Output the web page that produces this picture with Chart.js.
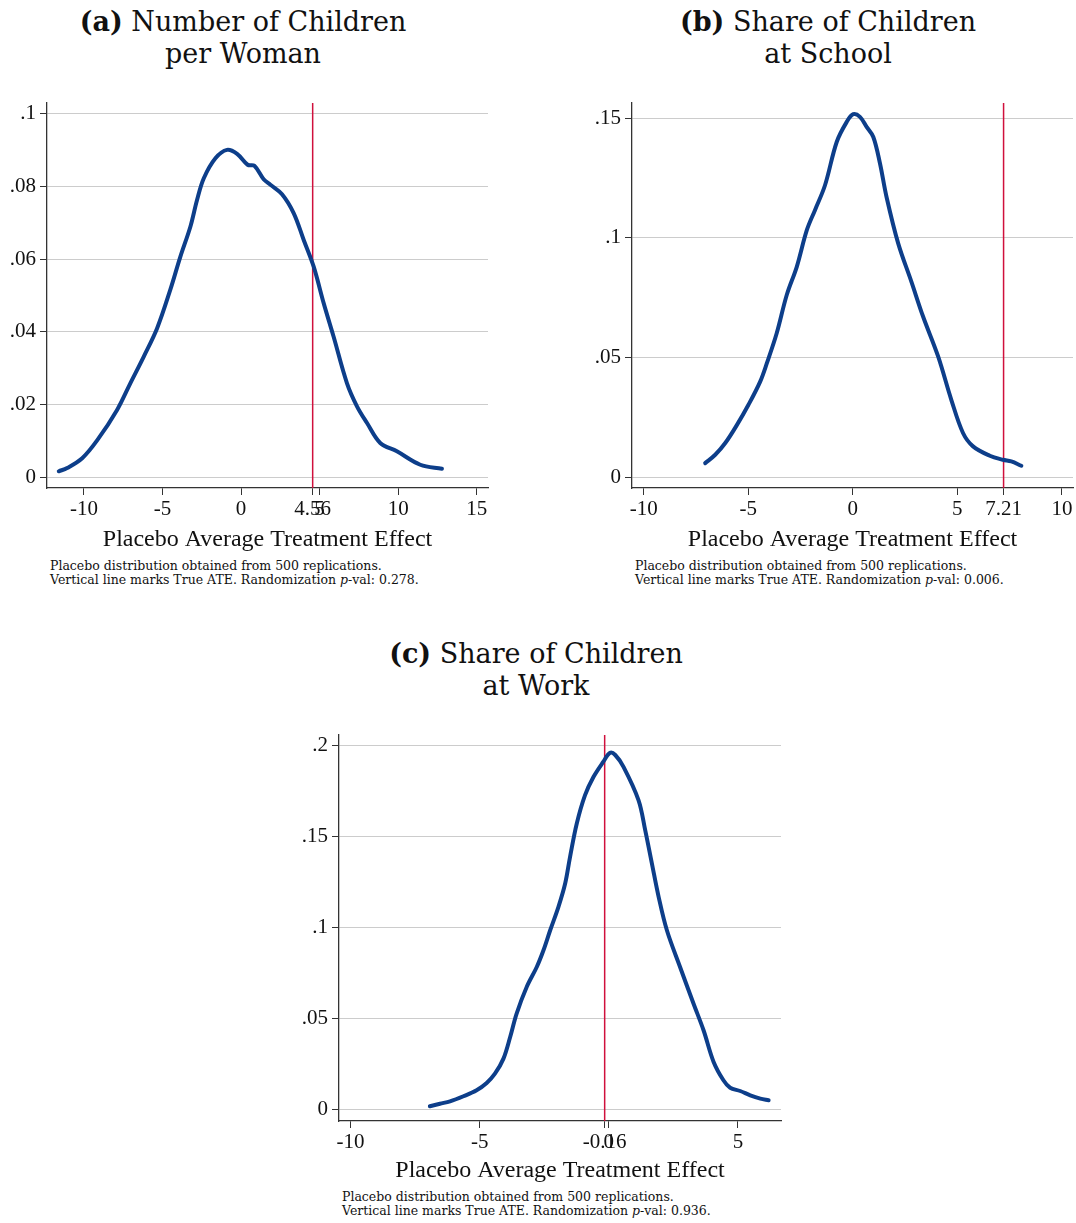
<!DOCTYPE html>
<html lang="en">
<head>
  <meta charset="utf-8">
  <title>Placebo ATE distributions</title>
  <script src="https://cdn.jsdelivr.net/npm/chart.js@4.4.1/dist/chart.umd.min.js"></script>
  <style>
    body { margin: 0; background: #fff; color: #111; font-family: 'DejaVu Serif', serif; }
    .page { position: relative; width: 1076px; height: 1223px; overflow: hidden; }
    .title { position: absolute; text-align: center; font-size: 27px; line-height: 32px; white-space: nowrap; }
    .note { position: absolute; font-size: 12.5px; line-height: 14px; white-space: nowrap; }
    canvas { position: absolute; }
  </style>
</head>
<body>
<div class="page">
  <div class="title" style="left:-7px; width:500px; top:6px;"><b>(a)</b> Number of Children<br>per Woman</div>
  <div class="title" style="left:578px; width:500px; top:6px;"><b>(b)</b> Share of Children<br>at School</div>
  <div class="title" style="left:286px; width:500px; top:638px;"><b>(c)</b> Share of Children<br>at Work</div>

  <canvas id="chart-a" width="500" height="464" style="left:0; top:90px;"></canvas>
  <canvas id="chart-b" width="496" height="464" style="left:580px; top:90px;"></canvas>
  <canvas id="chart-c" width="510" height="465" style="left:280px; top:720px;"></canvas>

  <div class="note" style="left:50px; top:559px;">Placebo distribution obtained from 500 replications.<br>Vertical line marks True ATE. Randomization <i>p</i>-val: 0.278.</div>
  <div class="note" style="left:635px; top:559px;">Placebo distribution obtained from 500 replications.<br>Vertical line marks True ATE. Randomization <i>p</i>-val: 0.006.</div>
  <div class="note" style="left:342px; top:1190px;">Placebo distribution obtained from 500 replications.<br>Vertical line marks True ATE. Randomization <i>p</i>-val: 0.936.</div>
</div>

<script>
  // (a) number of children per woman
  const aX = [-11.6, -11.07, -10.11, -9.16, -7.89, -7.04, -6.19, -5.34, -4.5, -3.86, -3.22, -2.8, -2.37,
    -1.63, -0.89, -0.25, 0.42, 0.85, 1.44, 1.87, 2.61, 3.35, 3.99, 4.62, 5.26, 5.89, 6.74, 7.38, 8.02,
    8.86, 9.92, 11.41, 12.79];
  const aDensity = [0.0016, 0.0025, 0.0052, 0.0101, 0.0185, 0.0259, 0.0332, 0.041, 0.0516, 0.0607, 0.069,
    0.0763, 0.0823, 0.0878, 0.0901, 0.089, 0.086, 0.0857, 0.082, 0.0805, 0.0779, 0.0727, 0.0653, 0.058,
    0.0479, 0.0387, 0.0259, 0.0195, 0.0149, 0.0094, 0.0071, 0.0034, 0.0023];
  const aATE = 4.56;
  const aXTicks = [-10, -5, 0, 5, 10, 15];
  const aYTicks = [0, 0.02, 0.04, 0.06, 0.08, 0.1];

  // (b) share of children at school
  const bX = [-7.06, -6.58, -6.1, -5.54, -4.99, -4.43, -4.11, -3.64, -3.16, -2.68, -2.2, -1.81, -1.33,
    -0.77, -0.29, 0.02, 0.34, 0.66, 0.98, 1.3, 1.61, 2.17, 2.8, 3.36, 4.08, 4.71, 5.27, 5.75, 6.55,
    7.18, 7.58, 8.06];
  const bDensity = [0.0058, 0.0093, 0.0142, 0.0218, 0.0302, 0.0399, 0.0476, 0.0601, 0.0761, 0.0879,
    0.1032, 0.1116, 0.122, 0.1401, 0.1485, 0.1517, 0.1506, 0.1464, 0.1422, 0.1311, 0.1172, 0.0977,
    0.0817, 0.0671, 0.0504, 0.0323, 0.0184, 0.0128, 0.0089, 0.0072, 0.0065, 0.0047];
  const bATE = 7.21;
  const bXTicks = [-10, -5, 0, 5, 10];
  const bYTicks = [0, 0.05, 0.1, 0.15];

  // (c) share of children at work
  const cX = [-6.93, -6.54, -6.15, -5.63, -5.12, -4.73, -4.41, -4.08, -3.82, -3.57, -3.18, -2.79, -2.53,
    -2.27, -1.95, -1.69, -1.5, -1.24, -0.92, -0.59, -0.21, 0.05, 0.25, 0.57, 1.15, 1.41, 1.67, 1.93,
    2.25, 2.76, 3.28, 3.67, 4.06, 4.44, 4.7, 5.09, 5.48, 5.87, 6.19];
  const cDensity = [0.0017, 0.0031, 0.0044, 0.0072, 0.0105, 0.0145, 0.0196, 0.0279, 0.0398, 0.0527,
    0.0673, 0.0783, 0.0875, 0.0985, 0.1114, 0.1242, 0.1389, 0.1572, 0.1728, 0.1829, 0.1912, 0.1961,
    0.1949, 0.1884, 0.1701, 0.1536, 0.1352, 0.1169, 0.0985, 0.0783, 0.0582, 0.0435, 0.0261, 0.016,
    0.0119, 0.0101, 0.0077, 0.0059, 0.005];
  const cATE = -0.16;
  const cXTicks = [-10, -5, 0, 5];
  const cYTicks = [0, 0.05, 0.1, 0.15, 0.2];

  const FONT = "'Liberation Serif', serif";
  const INK = '#111';
  const AXIS = '#333';

  function yLabel(v) {
    return v === 0 ? '0' : String(v).replace('0.', '.');
  }

  function placeboChart(id, o) {
    return new Chart(id, {
      type: 'line',
      data: {
        datasets: [
          {
            data: o.x.map((v, i) => ({x: v, y: o.y[i]})),
            borderColor: '#0d3e8a',
            borderWidth: 4,
            pointRadius: 0,
            tension: 0.35,
            borderCapStyle: 'round',
            borderJoinStyle: 'round'
          },
          {
            data: [{x: o.ate, y: o.yMin}, {x: o.ate, y: o.yMax}],
            borderColor: '#d0103c',
            borderWidth: 1.5,
            pointRadius: 0
          }
        ]
      },
      options: {
        responsive: false,
        animation: false,
        layout: {padding: {top: o.top, right: o.right, left: 0, bottom: 0}},
        plugins: {legend: {display: false}, tooltip: {enabled: false}},
        scales: {
          x: {
            type: 'linear',
            min: o.xMin,
            max: o.xMax,
            afterBuildTicks: s => { s.ticks = o.xTicks.concat([o.ate]).map(v => ({value: v})); },
            afterFit: s => { s.height = o.axisH; s.paddingLeft = 0; s.paddingRight = 0; },
            ticks: {
              autoSkip: false,
              maxRotation: 0,
              padding: 2,
              color: INK,
              font: {family: FONT, size: 21},
              callback: v => v === o.ate ? String(o.ate) : String(v)
            },
            grid: {drawOnChartArea: false, tickLength: 7, tickColor: AXIS},
            border: {color: AXIS, width: 1.3},
            title: {
              display: true,
              text: 'Placebo Average Treatment Effect',
              color: INK,
              padding: 0,
              font: {family: FONT, size: 24}
            }
          },
          y: {
            min: o.yMin,
            max: o.yMax,
            afterBuildTicks: s => { s.ticks = o.yTicks.map(v => ({value: v})); },
            afterFit: s => { s.width = o.left; s.paddingTop = 0; s.paddingBottom = 0; },
            ticks: {
              padding: 4,
              color: INK,
              font: {family: FONT, size: 21},
              callback: v => yLabel(v)
            },
            grid: {color: '#cccccc', lineWidth: 1, tickLength: 7, tickColor: AXIS},
            border: {color: AXIS, width: 1.3}
          }
        }
      }
    });
  }

  placeboChart('chart-a', {
    x: aX, y: aDensity, ate: aATE, xTicks: aXTicks, yTicks: aYTicks,
    xMin: -12.35, xMax: 15.72, yMin: -0.003, yMax: 0.103,
    left: 47, right: 12, top: 13, axisH: 66
  });

  placeboChart('chart-b', {
    x: bX, y: bDensity, ate: bATE, xTicks: bXTicks, yTicks: bYTicks,
    xMin: -10.56, xMax: 10.53, yMin: -0.0046, yMax: 0.1564,
    left: 52, right: 3, top: 13, axisH: 66
  });

  placeboChart('chart-c', {
    x: cX, y: cDensity, ate: cATE, xTicks: cXTicks, yTicks: cYTicks,
    xMin: -10.45, xMax: 6.67, yMin: -0.0064, yMax: 0.2059,
    left: 59, right: 9, top: 15, axisH: 64
  });
</script>
</body>
</html>
